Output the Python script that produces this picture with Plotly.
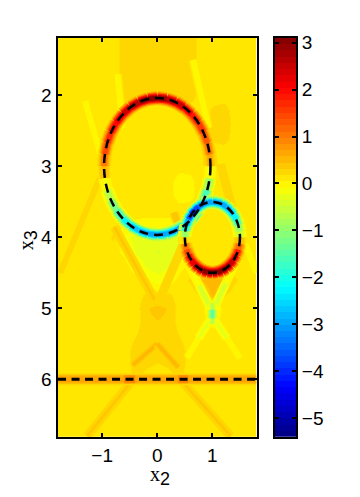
import math
import plotly.graph_objects as go

# background field (rows top to bottom)
grid_x = [-1.8, -1.6, -1.4, -1.2, -1.0, -0.8, -0.6, -0.4, -0.2, 0, 0.2, 0.4, 0.6, 0.8, 1.0, 1.2, 1.4, 1.6, 1.8]
grid_y = [1.2, 1.4, 1.6, 1.8, 2.0, 2.2, 2.4, 2.6, 2.8, 3.0, 3.2, 3.4, 3.6, 3.8, 4.0, 4.2, 4.4, 4.6, 4.8, 5.0, 5.2, 5.4, 5.6, 5.8, 6.0, 6.2, 6.4, 6.6, 6.8]
grid_z = [
    [.11, .11, .11, .11, .11, .11, .24, .24, .24, .24, .24, .24, .24, .11, .11, .11, .11, .11, .11],
    [.11, .11, .11, .11, .11, .11, .24, .24, .24, .24, .24, .24, .24, .11, .11, .11, .11, .11, .11],
    [.11, .11, .11, .11, .11, .11, .24, .24, .24, .24, .24, .24, .24, .11, .11, .11, .11, .11, .11],
    [.11, .11, .11, .11, .11, .11, .24, .24, .24, .24, .24, .24, .24, .11, .11, .11, .11, .11, .11],
    [.11, .11, .11, .11, .11, .11, .24, .3, .3, .3, .3, .3, .24, .11, .11, .11, .11, .11, .11],
    [.11, .11, .11, .11, .11, .11, .11, .11, .11, .11, .11, .11, .11, .11, .2, .24, .11, .11, .11],
    [.11, .11, .11, .11, .11, .11, .11, .11, .11, .11, .11, .11, .11, .11, .24, .3, .11, .11, .11],
    [.11, .11, .11, .11, .11, .11, .11, .11, .11, .11, .11, .11, .11, .11, .2, .24, .11, .11, .11],
    [.11, .11, .11, .11, .11, .11, .11, .11, .11, .11, .11, .11, .11, .11, .11, .11, .11, .11, .11],
    [.11, .11, .11, .11, .11, .11, .11, .11, .11, .11, .11, .08, .08, .11, .11, .11, .11, .11, .11],
    [.11, .11, .11, .11, .11, .11, .11, .11, .11, .11, .08, .0, .02, .11, .11, .11, .11, .11, .11],
    [.11, .11, .11, .11, .11, .11, .11, .11, .11, .11, .08, .0, .02, .11, .11, .11, .11, .11, .11],
    [.11, .11, .11, .11, .11, .11, .11, .11, .11, .11, .11, .08, .08, .11, .11, .11, .11, .11, .11],
    [.11, .11, .11, .11, .11, .11, .08, .02, .0, .0, .0, .02, .11, .11, .11, .11, .11, .11, .11],
    [.11, .11, .11, .11, .11, .2, -.12, -.28, -.32, -.32, -.32, -.25, .11, .11, .11, .11, .11, .11, .11],
    [.11, .11, .11, .11, .11, .11, .0, -.25, -.32, -.36, -.32, -.2, .11, .11, .11, .11, .11, .11, .11],
    [.11, .11, .11, .11, .11, .11, .11, -.05, -.25, -.3, -.25, -.02, .11, .11, .11, .11, .11, .11, .11],
    [.11, .11, .11, .11, .11, .11, .11, .11, -.04, -.16, -.04, .11, .2, .45, .55, .45, .2, .11, .11],
    [.11, .11, .11, .11, .11, .11, .11, .11, .2, .1, .2, .11, .11, .2, .5, .2, .11, .11, .11],
    [.11, .11, .11, .11, .11, .11, .11, .11, .3, .36, .3, .11, .11, .11, -.2, .11, .11, .11, .11],
    [.11, .11, .11, .11, .11, .11, .11, .11, .28, .3, .28, .11, .11, .11, .0, .11, .11, .11, .11],
    [.11, .11, .11, .11, .11, .11, .11, .18, .28, .3, .28, .18, .11, .11, .11, .11, .11, .11, .11],
    [.11, .11, .11, .11, .11, .11, .11, .24, .28, .28, .28, .24, .11, .11, .11, .11, .11, .11, .11],
    [.11, .11, .11, .11, .11, .11, .11, .24, .2, .16, .2, .24, .11, .11, .11, .11, .11, .11, .11],
    [.11, .11, .11, .11, .11, .11, .11, .2, .11, .11, .11, .2, .11, .11, .11, .11, .11, .11, .11],
    [.11, .11, .11, .11, .11, .11, .11, .11, .11, .11, .11, .11, .11, .11, .11, .11, .11, .11, .11],
    [.11, .11, .11, .11, .11, .11, .11, .11, .11, .11, .11, .11, .11, .11, .11, .11, .11, .11, .11],
    [.11, .11, .11, .11, .11, .11, .11, .11, .11, .11, .11, .11, .11, .11, .11, .11, .11, .11, .11],
    [.11, .11, .11, .11, .11, .11, .11, .11, .11, .11, .11, .11, .11, .11, .11, .11, .11, .11, .11],
]

# value along each circle, every 10 degrees counter-clockwise from +x2
ring_angles = [0, 10, 20, 30, 40, 50, 60, 70, 80, 90, 100, 110, 120, 130, 140, 150, 160, 170,
               180, 190, 200, 210, 220, 230, 240, 250, 260, 270, 280, 290, 300, 310, 320, 330, 340, 350]
big_values = [0.6, 1.0, 1.3, 1.6, 1.9, 2.2, 2.5, 2.7, 2.9, 3.0, 2.9, 2.7, 2.5, 2.3, 2.0, 1.7, 1.4, 1.0,
              0.5, -0.1, -0.7, -1.2, -1.8, -2.3, -2.7, -2.9, -3.0, -3.0, -3.0, -3.0, -3.2, -3.8, -2.8, -1.6, -0.9, -0.2]
small_values = [-0.5, -1.0, -1.7, -2.3, -2.7, -2.9, -3.0, -3.0, -3.0, -3.0, -3.1, -3.4, -3.8, -4.0, -3.6, -3.0, -2.2, -1.0,
                0.2, 1.0, 1.5, 2.0, 2.3, 2.6, 2.8, 3.0, 3.0, 3.0, 3.0, 3.0, 2.8, 2.5, 2.2, 1.8, 1.2, 0.5]
big_circle = (0.0, 3.0, 0.965)
small_circle = (1.0, 4.0, 0.5)

# faint streaks: x ends, y ends, value
streak_x = [(-1.31, -0.98), (-0.72, -0.63), (0.65, 0.93), (1.15, 1.5), (1.6, 1.8), (-0.98, -1.76),
            (-0.78, 0), (0.47, 0), (0.3, 0.47), (0, -0.44), (0, 0.38), (-0.49, -1.27), (0.47, 1.33),
            (0.56, 0.76), (1.45, 1.24), (0.76, 0.97), (1.24, 1.03), (0.54, 0.75), (1.5, 1.26), (0.75, 0.97), (1.26, 1.03),
            (1, 1), (1, 1)]
streak_y = [(2.08, 2.97), (1.7, 2.46), (1.5, 2.46), (2.97, 4.0), (4.1, 4.5), (3.05, 4.5),
            (3.85, 4.95), (4.1, 4.95), (3.65, 4.0), (5.5, 5.8), (5.5, 5.83), (6.05, 6.8), (6.05, 6.8),
            (4.36, 4.68), (4.3, 4.65), (4.68, 5.0), (4.65, 5.0), (5.7, 5.42), (5.7, 5.42), (5.42, 5.15), (5.42, 5.15),
            (4.93, 5.22), (5.02, 5.14)]
streak_v = [-0.02, 0.0, -0.05, 0.3, 0.0, 0.26, 0.37, 0.3, 0.42, 0.5, 0.5, 0.37, 0.37,
            -0.12, -0.12, -0.42, -0.42, -0.05, -0.05, -0.35, -0.35, -0.7, -1.5]

# interface at x3 = 6
line_x = [-1.8, 1.8]
line_y = [6.0, 6.0]
line_v = 0.6
hot_x = [(-0.6, -0.4), (0.38, 0.56)]
hot_v = [0.95, 0.95]

zmin = -5.4
zmax = 3.1
base = 0.11
n_levels = 64
cbar_ticks = [-5, -4, -3, -2, -1, 0, 1, 2, 3]
x_ticks = [-1, 0, 1]
y_ticks = [2, 3, 4, 5, 6]


def jet_rgb(f):
    def ch(t):
        return max(0.0, min(1.0, 1.5 - abs(4 * f - t)))
    return "rgb(%d,%d,%d)" % (round(255 * ch(3)), round(255 * ch(2)), round(255 * ch(1)))


def value_color(v):
    # same 64 flat steps as the colormap
    i = int((v - zmin) / (zmax - zmin) * n_levels)
    i = max(0, min(n_levels - 1, i))
    return jet_rgb((i + 0.5) / n_levels)


jet_scale = []
for i in range(n_levels):
    c = jet_rgb((i + 0.5) / n_levels)
    jet_scale.append([i / n_levels, c])
    jet_scale.append([(i + 1) / n_levels, c])

fig = go.Figure()
fig.add_trace(go.Heatmap(x=grid_x, y=grid_y, z=grid_z, zmin=zmin, zmax=zmax, colorscale=jet_scale,
                         zsmooth="best", showscale=False, hoverinfo="skip"))


def add_seg(xs, ys, v, width):
    fig.add_trace(go.Scatter(x=xs, y=ys, mode="lines", showlegend=False, hoverinfo="skip",
                             line=dict(color=value_color(v), width=width)))


for xs, ys, v in zip(streak_x, streak_y, streak_v):
    for width, scale in ((9, 0.4), (6, 0.7), (3, 1.0)):
        add_seg(list(xs), list(ys), base + (v - base) * scale, width)

add_seg(line_x, line_y, 0.25, 12)
add_seg(line_x, line_y, 0.45, 9)
add_seg(line_x, line_y, line_v, 6)
for xs, v in zip(hot_x, hot_v):
    add_seg(list(xs), line_y, v, 8)

for (cx, cy, r), vals in ((big_circle, big_values), (small_circle, small_values)):
    pts = []
    for a in ring_angles + [360]:
        t = math.radians(a)
        # x3 axis points down
        pts.append((cx + r * math.cos(t), cy - r * math.sin(t)))
    for width, scale in ((14, 0.15), (11.5, 0.35), (9, 0.6), (6.5, 0.85), (4.5, 1.0)):
        for i, v in enumerate(vals):
            add_seg([pts[i][0], pts[i + 1][0]], [pts[i][1], pts[i + 1][1]],
                    base + (v - base) * scale, width)

fig.add_trace(go.Scatter(x=line_x, y=line_y, mode="lines", showlegend=False, hoverinfo="skip",
                         line=dict(color="black", width=3, dash="8px,5.5px")))

for cx, cy, r in (big_circle, small_circle):
    fig.add_shape(type="circle", xref="x", yref="y", x0=cx - r, x1=cx + r, y0=cy - r, y1=cy + r,
                  line=dict(color="black", width=2.5, dash="9px,6px"))

# colour bar drawn as its own axes, it has ticks on both sides
levels = [zmin + (i + 0.5) * (zmax - zmin) / n_levels for i in range(n_levels)]
fig.add_trace(go.Heatmap(x=[0, 1], y=levels, z=[[v, v] for v in levels], zmin=zmin, zmax=zmax,
                         colorscale=jet_scale, showscale=False, hoverinfo="skip",
                         xaxis="x2", yaxis="y2"))

tick_font = dict(family="Liberation Sans", size=19, color="black")
label_font = dict(family="Liberation Serif", size=20, color="black")
axis_style = dict(showgrid=False, zeroline=False, showline=True, linecolor="black", linewidth=2,
                  mirror="ticks", ticks="inside", ticklen=4, tickwidth=2, tickcolor="black",
                  tickfont=tick_font)

plot_dom = [(497 - 436) / 497, (497 - 32.4) / 497]
sub_style = "style='font-size:18px;font-family:Liberation Sans'"

fig.update_layout(
    width=360, height=497, margin=dict(l=0, r=0, t=0, b=0),
    paper_bgcolor="white", plot_bgcolor="white", showlegend=False,
    xaxis=dict(domain=[57.5 / 360, 256.5 / 360], range=[-1.81, 1.8], tickvals=x_ticks, anchor="y", **axis_style),
    yaxis=dict(domain=plot_dom, range=[6.81, 1.19], tickvals=y_ticks, anchor="x", **axis_style),
    xaxis2=dict(domain=[274.5 / 360, 296 / 360], range=[0, 1], showticklabels=False, showgrid=False, zeroline=False,
                showline=True, linecolor="black", linewidth=2, mirror=True, ticks="", anchor="y2"),
    yaxis2=dict(domain=plot_dom, range=[zmin, zmax], tickvals=cbar_ticks, anchor="x2", side="right", **axis_style),
    annotations=[
        dict(text="x<sub><span %s>2</span></sub>" % sub_style, xref="paper", yref="paper", x=160 / 360,
             y=(497 - 476) / 497, xanchor="center", yanchor="middle", showarrow=False, font=label_font),
        dict(text="x<sub><span %s>3</span></sub>" % sub_style, xref="paper", yref="paper", x=28 / 360,
             y=(497 - 237) / 497, xanchor="center", yanchor="middle", textangle=-90, showarrow=False, font=label_font),
    ],
)

fig.write_html("out.html", config={"displayModeBar": False}, post_script="document.body.style.margin='0';")
